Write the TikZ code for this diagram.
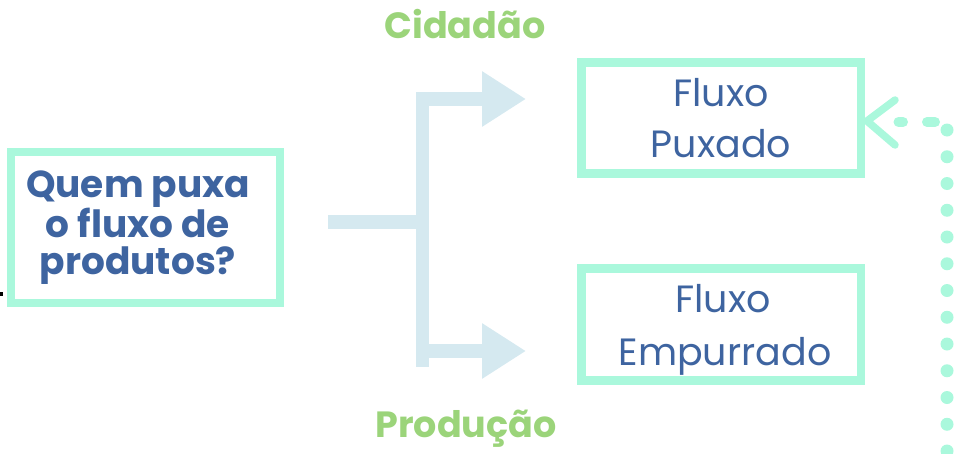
\documentclass[tikz,border=0pt]{standalone}
\usepackage{fontspec}
\setmainfont{Poppins}
\usetikzlibrary{arrows.meta}
\definecolor{mint}{HTML}{AAF8DC}
\definecolor{txtblue}{HTML}{3E64A0}
\definecolor{lgreen}{HTML}{9BD47A}
\definecolor{lblue}{HTML}{D5E9F0}
\tikzset{
  box/.style={draw=mint, line width=8.5pt, rectangle, inner sep=0pt, text=txtblue, align=center},
  flow/.style={draw=lblue, line width=13.5pt},
  flowarrow/.style={flow, -{Triangle[length=44pt,width=52.5pt]}},
  lbl/.style={text=lgreen, font=\bfseries\fontsize{36.5}{37}\selectfont, anchor=base, inner sep=0pt},
  dots/.style={draw=mint, line width=13pt, line cap=round, dash pattern=on 0pt off 26.75pt},
  dashes/.style={draw=mint, line width=10pt, line cap=round},
  chev/.style={draw=mint, line width=7.5pt, line cap=round, line join=round}
}
\begin{document}
\begin{tikzpicture}[x=1pt,y=-1pt]
\useasboundingbox (0,0) rectangle (956,453);
\fill[black] (0,292) rectangle (3,296);
% boxes
\node[box, minimum width=269pt, minimum height=151pt,
      font=\bfseries\fontsize{37.5}{37}\selectfont] (q) at (145.5,227.5)
      {\hspace*{-15pt}Quem puxa\\\hspace*{-15pt}o fluxo de\\\hspace*{-15pt}produtos?};
\node[box, minimum width=279.5pt, minimum height=111pt,
      font=\fontsize{38}{51}\selectfont] (pux) at (721,118) {Fluxo\\Puxado};
\node[box, minimum width=279.5pt, minimum height=112pt,
      font=\fontsize{38}{53}\selectfont] (emp) at (721,324.5)
      {\hspace*{4pt}Fluxo\\\hspace*{8pt}\raisebox{0pt}[\height][0pt]{Empurrado}};
% labels
\node[lbl] (cid) at (465,38) {Cidadão};
\node[lbl] (prod) at (466,437) {Produção};
% branching connector
\coordinate (s) at (328,222);
\coordinate (j) at (422.5,222);
\coordinate (jt) at (422.5,92);
\coordinate (jb) at (422.5,367);
\coordinate (ta) at (526,99);
\coordinate (tb) at (526,351);
\draw[flow] (s) -- (j);
\draw[flow] (jt) -- (jb);
\draw[flowarrow] (422.5,99) -- (ta);
\draw[flowarrow] (422.5,351) -- (tb);
% return connector (dotted)
\coordinate (dbot) at (947,451);
\coordinate (dtop) at (947,130);
\draw[dots] (dbot) -- (dtop);
\draw[dashes] (898.5,122) -- (903,122);
\draw[dashes] (927,122) -- (935,122);
\coordinate (chtip) at (867,121);
\draw[chev] (895,100) -- (chtip) -- (895,145);
\end{tikzpicture}
\end{document}
